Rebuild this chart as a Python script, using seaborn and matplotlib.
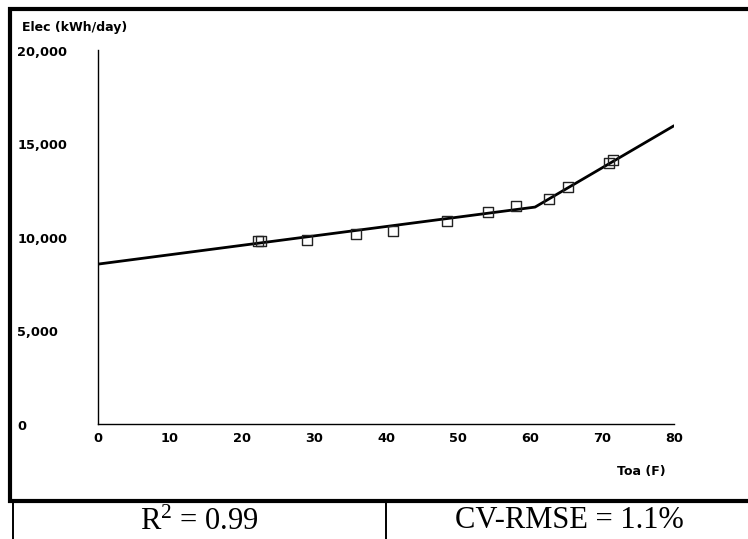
import seaborn as sns
import matplotlib.pyplot as plt
import matplotlib.transforms as mtransforms
from matplotlib.lines import Line2D

# outdoor air temperature (F) vs daily electricity use (kWh/day)
toa = [22.2, 22.6, 29.0, 35.8, 41.0, 48.5, 54.2, 58.1, 62.6, 65.3, 71.0, 71.5]
elec = [9790, 9790, 9840, 10160, 10320, 10860, 11340, 11660, 12030, 12670, 13960, 14120]

# fitted change-point model
fit_toa = [0, 60.7, 80]
fit_elec = [8550, 11600, 15950]

x_ticks = [0, 10, 20, 30, 40, 50, 60, 70, 80]
y_ticks = [0, 5000, 10000, 15000, 20000]
y_labels = ['0', '5,000', '10,000', '15,000', '20,000']

sns.set_style('white')
plt.rcParams['font.family'] = ['DejaVu Sans']
plt.rcParams['font.weight'] = 'bold'
plt.rcParams['text.color'] = 'black'
plt.rcParams['mathtext.fontset'] = 'custom'
plt.rcParams['mathtext.rm'] = 'Liberation Serif:normal'
plt.rcParams['mathtext.default'] = 'rm'

W, H = 748, 539
fig = plt.figure(figsize=(W / 100, H / 100), dpi=100)
ax = fig.add_axes([98 / W, 1 - 424 / H, (674 - 98) / W, (424 - 50) / H])

sns.lineplot(x=fit_toa, y=fit_elec, color='black', linewidth=2, ax=ax)
sns.scatterplot(x=toa, y=elec, marker='s', s=55, facecolor='none',
                edgecolor='#222222', linewidth=1, ax=ax, zorder=3)

ax.set_xlim(0, 80)
ax.set_ylim(0, 20000)
ax.set_xticks(x_ticks)
ax.set_yticks(y_ticks)
ax.set_yticklabels(y_labels, ha='left', va='top')
ax.tick_params(axis='both', direction='in', length=5, width=1, colors='black',
               labelsize=9.3)
ax.tick_params(axis='y', pad=58)
ax.tick_params(axis='x', pad=6)
for side in ['top', 'right']:
    ax.spines[side].set_visible(False)
for side in ['left', 'bottom']:
    ax.spines[side].set_color('black')
    ax.spines[side].set_linewidth(1)
ax.set_xlabel('')
ax.set_ylabel('')

# y labels sit slightly below their ticks in the original
shift = mtransforms.ScaledTranslation(0, 3 / 72, fig.dpi_scale_trans)
for lab in ax.get_yticklabels():
    lab.set_transform(lab.get_transform() + shift)

fig.text(22 / W, 1 - 27 / H, 'Elec (kWh/day)', fontsize=9, fontweight='bold',
         ha='left', va='center')
fig.text(666 / W, 1 - 471 / H, 'Toa (F)', fontsize=9, fontweight='bold',
         ha='right', va='center')


def pline(xs, ys, lw):
    fig.add_artist(Line2D([x / W for x in xs], [1 - y / H for y in ys],
                          color='black', linewidth=lw, solid_capstyle='butt'))


# page frame and the table row underneath
pline([8, W], [9, 9], 3)
pline([10, 10], [7, 503], 3)
pline([8, W], [501, 501], 3)
pline([13, 13], [503, H], 1.4)
pline([386, 386], [503, H], 1.4)

serif = ['Liberation Serif', 'DejaVu Serif']
fig.text(199 / W, 1 - 522 / H, r'R$^{2}$ = 0.99', fontsize=22, family=serif,
         fontweight='normal', ha='center', va='center')
fig.text(569 / W, 1 - 520 / H, 'CV-RMSE = 1.1%', fontsize=22, family=serif,
         fontweight='normal', ha='center', va='center')

fig.savefig('out.png', dpi=100)
